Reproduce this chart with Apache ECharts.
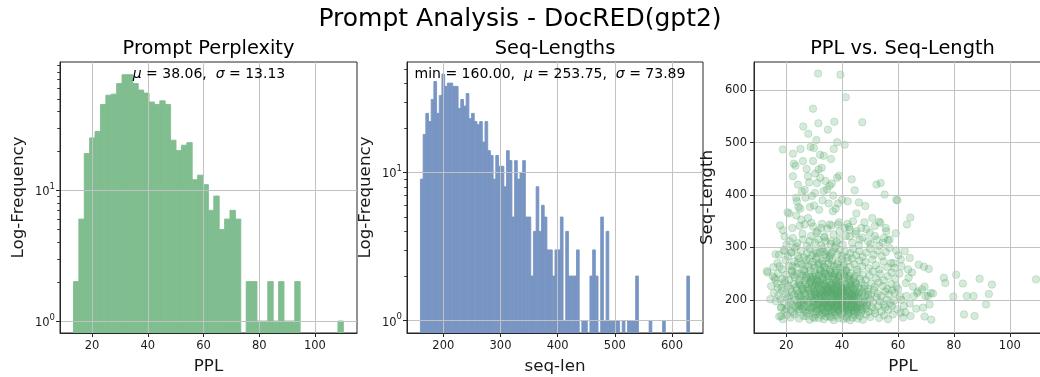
<!DOCTYPE html>
<html>
<head>
<meta charset="utf-8">
<script src="https://cdn.jsdelivr.net/npm/echarts@6/dist/echarts.min.js"></script>
<style>
html, body { margin: 0; padding: 0; background: #fff; }
#main { width: 1040px; height: 377px; }
</style>
</head>
<body>
<div id="main"></div>
<script>
// ---- data ----
// PPL histogram: 50 bins
var pplBinStart = 13.3;
var pplBinWidth = 1.938;
var pplCounts = [2, 6, 19, 25, 28, 45, 53, 54, 65, 76,
                 76, 65, 58, 55, 47, 45, 48, 45, 24, 20,
                 22, 23, 12, 13, 11, 7, 9, 5, 6, 7,
                 6, 0, 2, 2, 1, 1, 2, 1, 2, 1,
                 1, 2, 0, 0, 0, 0, 0, 0, 0, 1];

// seq-length histogram: 100 bins
var seqBinStart = 160;
var seqBinWidth = 4.706;
var seqCounts = [9, 18, 25, 22, 31, 41, 25, 33, 46, 38,
                 40, 40, 38, 38, 27, 31, 28, 34, 23, 25,
                 22, 21, 22, 16, 22, 14, 13, 9, 13, 11,
                 11, 8, 14, 12, 5, 12, 9, 10, 12, 5,
                 5, 2, 4, 8, 4, 6, 5, 3, 3, 2,
                 3, 3, 5, 1, 4, 2, 2, 2, 3, 0,
                 1, 1, 0, 2, 3, 2, 0, 5, 1, 4,
                 1, 1, 1, 1, 0, 1, 0, 1, 1, 1,
                 2, 0, 0, 0, 0, 1, 0, 0, 0, 0,
                 1, 0, 0, 0, 0, 0, 0, 0, 0, 2];

// tick labels
var pplTicks = [20, 40, 60, 80, 100];
var seqTicks = [200, 300, 400, 500, 600];
var logTicks = [1, 10];
var pplMinorTicks = [2, 3, 4, 5, 6, 7, 8, 9, 20, 30, 40, 50, 60, 70, 80, 90];
var seqMinorTicks = [2, 3, 4, 5, 6, 7, 8, 9, 20, 30, 40, 50];

// axis ranges
var pplRange = [8.47, 115.1];
var seqRange = [136.5, 654.2];
var pplLogRange = [0.81, 95];
var seqLogRange = [0.826, 55.5];

// PPL vs seq-length points
var scatterPoints = [
  // upper part
  [31.4,632],[39.4,630],[41.3,587],[29.6,565],[26.1,531],[31.5,537],[37.2,540],[47.2,539],[27.9,517],[34.9,525],
  [30.8,505],[38.2,501],[40.9,496],[18.8,487],[22.4,479],[25.1,488],[28.7,492],[29.9,490],[32.1,477],[33.4,475],
  [37,488],[36,469],[22.7,460],[23.3,456],[26,465],[29.6,465],[31.6,449],[32.7,452],[38.2,433],[38.9,437],
  [22.4,436],[27.8,436],[32.2,433],[31,423],[35.5,418],[36.3,422],[43.4,430],[52.3,420],[53.8,423],[55.2,401],
  [59.4,391],[44.5,409],[46,386],[48.3,379],[34.6,411],[33.4,408],[30.3,404],[25.6,407],[26.6,410],[23.6,395],
  [25,374],[24.4,377],[23.8,388],[21,365],[20.5,367],[36.7,369],[37.7,374],[38.5,384],[45.1,365],[43.9,350],
  [48,348],[50.8,356],[53.2,349],[55.6,337],[56.4,314],[59.2,327],[59.4,294],[17.8,342],[18.8,333],[19.4,321],
  [22.2,337],[24.8,341],[25.4,353],[23.6,361],[27.8,356],[29,347],[30.8,328],[32.5,337],[35.5,344],[38.5,344],
  [40.9,337],[42.7,334],[45.1,331],[46.9,337],[49.9,328],[51.7,341],[53.7,347],[55.8,331],[57,315],[54.6,309],
  [52.3,315],[49.3,312],[46.3,315],[42.7,321],[39.1,315],[36.1,312],[33.7,321],[31.4,315],[28.4,312],[26,315],
  [23.6,302],[21.2,312],[19.4,293],[21.8,290],[16.2,287],[13.1,255],[14.3,201],[15.8,242],[17.6,264],[17,223],
  [18.2,185],[18.2,169],[20,182],
  [30,380],[31.8,372],[28.5,377],[35.2,384],[40,391],[42,388],[26.9,395],[29.2,398],[33,390],[36.8,399],
  [24.2,420],[28.2,424],[34,427],[30.4,441],[27.3,450],
  // right side
  [59.8,390],[64.4,357],[63.2,344],[62.4,293],[64.2,280],[61,277],[67.4,267],[69.3,263],[71,259],[63.6,258],
  [65,252],[63.8,242],[76.4,242],[76.9,232],[80.8,248],[83.2,231],[89.2,240],[93.6,229],[92.5,211],[79.8,206],
  [84.6,207],[87,207],[91.5,191],[83.6,172],[87.4,169],[109.4,239],[59.4,226],[60,221],[58.8,213],[60.6,207],
  [61.2,200],[63,207],[65.4,225],[66.9,213],[68.6,220],[69.5,225],[70.7,207],[71.7,213],[72.5,212],[69.8,207],
  [71.3,191],[69,185],[66.5,183],[64.2,193],[62.1,188],[60.9,175],[61.8,166],[64.5,169],[69.5,168],[71.9,162],
  [58.8,261],[61.2,264],[67.1,216],[65.7,207],[59,240],[60.5,250],[58.4,270],[60.1,285],[62.8,232],[58.6,198],
  [59.7,182],[62.6,176],
  // 160-175
  [17.5,168],[18.8,163],[20.2,171],[21.5,166],[23,172],[24.6,164],[26.1,169],[27.3,174],[28.4,162],[29.6,167],
  [30.5,172],[31.7,165],[32.6,170],[33.5,163],[34.3,168],[35.2,173],[36.1,166],[37,161],[37.8,170],[38.7,165],
  [39.6,172],[40.4,163],[41.3,168],[42.1,173],[42.9,161],[43.8,166],[44.6,171],[45.5,164],[46.3,169],[47.4,162],
  [48.6,172],[50.1,167],[51.8,174],[53.2,165],[55,170],[56.4,163],[58.1,172],
  // 175-190
  [18.2,185],[19.5,178],[20.8,188],[21.6,181],[22.5,176],[23.4,186],[24.3,179],[25.1,189],[25.9,183],[26.8,177],
  [27.6,187],[28.3,180],[29.1,185],[29.8,176],[30.4,189],[31.1,182],[31.8,178],[32.4,186],[33,180],[33.7,189],
  [34.2,176],[34.9,184],[35.5,179],[36.2,188],[36.8,182],[37.4,177],[38,186],[38.6,180],[39.3,189],[39.9,184],
  [40.5,177],[41.2,187],[41.8,181],[42.5,176],[43.1,185],[43.7,179],[44.4,188],[45,182],[45.6,177],[46.3,186],
  [47,180],[47.8,189],[48.7,183],[49.5,177],[50.6,186],[51.7,180],[52.9,188],[54.1,178],[55.3,185],[56.6,181],
  [57.8,188],[30.9,179],[32.9,183],[35.1,187],[37.1,184],[39.1,178],[41,183],[43.4,187],[45.3,185],[44.1,178],
  [46.8,183],[33.9,177],[36.5,176],[28.8,183],[26.3,186],[24.8,182],[38.3,190],[40.2,186],[42.2,179],
  // 190-205
  [16.3,197],[17.9,201],[19.2,194],[20.4,203],[21.3,196],[22.2,191],[23.1,200],[23.9,194],[24.7,204],[25.5,198],
  [26.4,192],[27.2,201],[28,195],[28.7,204],[29.4,198],[30.1,192],[30.7,201],[31.3,195],[32,204],[32.6,198],
  [33.2,191],[33.8,200],[34.4,194],[35,203],[35.6,197],[36.2,191],[36.8,200],[37.4,194],[38,203],[38.6,197],
  [39.2,191],[39.8,200],[40.4,194],[41,203],[41.6,197],[42.2,192],[42.8,201],[43.4,195],[44,204],[44.6,198],
  [45.2,192],[45.8,201],[46.5,195],[47.3,204],[48.1,198],[49,192],[50,201],[51.1,195],[52.3,204],[53.5,197],
  [54.8,191],[56,200],[57.3,194],[29.9,196],[31.9,193],[34.1,197],[36,196],[38.2,193],[40.1,197],[42,199],
  [44.2,193],[43.6,198],[37.7,199],[35.3,193],[33,195],[27.7,197],[25,195],[39.5,204],[41.4,191],[46,191],
  [30.5,203],
  // 205-220
  [15.6,213],[17.2,208],[18.6,217],[19.9,211],[21,206],[21.9,215],[22.8,209],[23.7,218],[24.5,212],[25.3,207],
  [26.2,216],[27,210],[27.8,219],[28.5,213],[29.2,207],[29.9,216],[30.5,210],[31.2,219],[31.8,213],[32.4,207],
  [33,216],[33.6,210],[34.2,219],[34.8,213],[35.4,207],[36,216],[36.6,210],[37.2,219],[37.8,213],[38.4,207],
  [39,216],[39.6,210],[40.2,219],[40.8,213],[41.4,207],[42,216],[42.6,210],[43.2,219],[43.8,213],[44.4,207],
  [45,216],[45.7,210],[46.5,219],[47.3,213],[48.2,207],[49.2,216],[50.3,210],[51.5,218],[52.7,212],[54,207],
  [55.4,216],[56.8,210],[57.9,218],[30.3,214],[32.1,211],[34.5,215],[36.3,213],[38.1,211],[40.5,215],[42.4,213],
  [44.7,211],[28.9,211],[26.6,213],[24.1,209],[33.3,208],[35.7,218],[37.5,208],[39.3,213],[41.7,217],[43.5,206],
  [46.1,214],
  // 220-235
  [14.6,226],[16.8,231],[18.3,223],[19.6,232],[20.7,227],[21.7,221],[22.6,230],[23.5,224],[24.4,233],[25.2,227],
  [26.1,221],[26.9,230],[27.7,224],[28.5,233],[29.2,227],[29.9,221],[30.6,230],[31.3,224],[32,233],[32.7,227],
  [33.4,221],[34.1,230],[34.8,224],[35.5,233],[36.2,227],[36.9,221],[37.6,230],[38.3,224],[39,233],[39.7,227],
  [40.4,221],[41.1,230],[41.8,224],[42.5,233],[43.3,227],[44.1,221],[45,230],[45.9,224],[46.9,233],[48,227],
  [49.2,222],[50.4,231],[51.7,225],[53.1,233],[54.6,226],[56.2,221],[57.6,230],[31.6,228],[33.8,226],[35.9,229],
  [37.9,227],[34.6,222],[30.9,234],[28.1,229],[39.4,224],[42.9,229],[36.5,224],[24.8,229],[44.5,226],
  // 235-255
  [13.3,252],[15.2,245],[17.1,250],[18.7,240],[20,248],[21.1,238],[22.1,253],[23,243],[23.9,249],[24.8,237],
  [25.7,246],[26.5,254],[27.3,241],[28.1,249],[28.9,236],[29.6,244],[30.3,252],[31,239],[31.7,247],[32.4,255],
  [33.1,242],[33.8,250],[34.5,237],[35.2,245],[35.9,253],[36.6,240],[37.3,248],[38,236],[38.7,244],[39.4,252],
  [40.1,239],[40.8,247],[41.5,255],[42.2,242],[43,250],[43.8,237],[44.6,245],[45.5,253],[46.4,240],[47.4,248],
  [48.5,238],[49.7,246],[50.9,254],[52.2,241],[53.5,249],[54.9,237],[56.3,245],[57.7,252],[30.7,246],[32.8,241],
  [34.9,249],[36.9,244],[29.3,240],[27,245],[38.9,240],[40.6,251],[25.3,250],[33.5,254],[37.7,252],[42.6,246],
  [22.7,247],[19.5,236],[16.2,238],[31.4,236],[44.2,241],
  // 255-280
  [15.4,262],[16.9,270],[18.5,258],[19.8,276],[20.9,265],[21.9,256],[22.8,273],[23.7,262],[24.6,279],[25.4,268],
  [26.3,258],[27.1,275],[27.9,264],[28.7,256],[29.4,272],[30.1,261],[30.8,278],[31.5,267],[32.2,257],[32.9,274],
  [33.6,263],[34.3,280],[35,269],[35.7,258],[36.4,275],[37.1,264],[37.8,256],[38.5,272],[39.2,261],[39.9,278],
  [40.6,267],[41.3,257],[42,274],[42.8,263],[43.6,279],[44.4,268],[45.3,258],[46.2,275],[47.2,264],[48.3,272],
  [49.5,260],[50.8,277],[52.1,266],[53.4,258],[54.8,273],[56.2,262],[57.5,270],[29.8,266],[31.9,270],[34,260],
  [36.1,266],[38.2,268],[26.8,266],[24.1,270],[40.3,262],[33,268],[28.3,279],[35.4,279],[22.3,264],
  // 280-300
  [17.4,286],[19.1,295],[20.6,283],[21.8,291],[23,299],[24.2,284],[25.3,293],[26.4,281],[27.4,289],[28.4,297],
  [29.3,285],[30.2,293],[31.1,282],[32,290],[32.9,298],[33.8,286],[34.7,294],[35.6,283],[36.5,291],[37.4,299],
  [38.3,287],[39.2,295],[40.1,284],[41,292],[41.9,281],[42.9,289],[43.9,297],[45,285],[46.1,293],[47.3,282],
  [48.6,290],[49.9,298],[51.3,286],[52.7,294],[54.2,283],[55.6,291],[57,299],[30.8,289],[33.3,292],[35.9,288],
  // 300-350
  [20.1,305],[22.4,318],[24,308],[25.8,326],[27.4,303],[28.9,322],[30.3,309],[31.2,331],[32.5,304],[33.6,319],
  [34.7,336],[35.8,307],[36.9,325],[38,311],[39.1,330],[40.2,305],[41.4,322],[42.5,339],[43.6,309],[44.8,326],
  [46,304],[47.3,319],[48.7,335],[50.2,306],[51.7,322],[53.3,303],[55,318],[29.6,340],[32.8,345],[36.2,342],
  [38.9,348],[41.9,345],[26.6,344],[34.1,312],[37.6,302],
  // dense core
  [29.5,186],[31.2,191],[32.2,184],[33.6,193],[34.8,188],[35.8,182],[36.9,192],[37.9,187],[39,182],[40,193],
  [41.1,188],[42.3,183],[43.3,191],[44.5,186],[30.2,210],[31.5,205],[32.9,213],[34,206],[35.1,211],[36.4,205],
  [37.4,214],[38.7,206],[39.8,212],[41,209],[42.2,205],[43.7,211],[45,206],[29,222],[30.4,227],[32.3,220],
  [33.5,229],[35,219],[36.6,232],[37.3,220],[38.8,229],[40,223],[41.5,227],[43,223],[44.8,232],[28.6,243],
  [30,238],[31.9,250],[33.3,237],[34.3,245],[36.2,250],[37.5,239],[39.1,246],[41,242],[42.8,238],[27.2,169],
  [30.1,165],[33,174],[35.7,168],[38.4,175],[41.7,165],[44.2,174],[46.8,176],[47.6,195],[48.8,188],[47.9,221],
  [49.3,208],[26.4,200],[24.3,188],[26.7,237],[25.8,221]
];

// ---- styling ----
var FONT = 'DejaVu Sans';
var INK = '#1a1a1a';
var SPINE = '#262626';
var GRIDLINE = '#c2c2c2';
var GREEN_BAR = '#80bd8f';
var BLUE_BAR = '#7895c3';
var GREEN = '#55a868';

function histData(start, width, counts) {
  var out = [];
  for (var i = 0; i < counts.length; i++) {
    if (counts[i] > 0) out.push([start + i * width, start + (i + 1) * width, counts[i]]);
  }
  return out;
}

function renderHist(params, api) {
  var p0 = api.coord([api.value(0), api.value(2)]);
  var p1 = api.coord([api.value(1), api.value(2)]);
  var cs = params.coordSys;
  var c = api.visual('color');
  return {
    type: 'rect',
    shape: { x: p0[0], y: p0[1], width: p1[0] - p0[0], height: cs.y + cs.height - p0[1] },
    style: { fill: c, stroke: c, lineWidth: 0.9 }
  };
}

function renderMinorTick(params, api) {
  var p = api.coord([api.value(0), api.value(1)]);
  var x0 = params.coordSys.x;
  return {
    type: 'line',
    shape: { x1: x0 - 2.8, y1: Math.round(p[1]) + 0.5, x2: x0, y2: Math.round(p[1]) + 0.5 },
    style: { stroke: SPINE, lineWidth: 0.9 }
  };
}

function supLabel(v) {
  var e = Math.round(Math.log(v) / Math.LN10);
  return '{b|10}{s|' + e + '}';
}

function xAxisCfg(grid, range, ticks, name) {
  return {
    gridIndex: grid, type: 'value', min: range[0], max: range[1], splitNumber: 5, z: 3,
    name: name, nameLocation: 'middle', nameGap: 25,
    nameTextStyle: { fontSize: 16.7, color: INK, fontFamily: FONT },
    axisLine: { show: true, onZero: false, lineStyle: { color: SPINE, width: 1 } },
    axisTick: { show: true, length: 4, customValues: ticks, lineStyle: { color: SPINE, width: 1 } },
    axisLabel: { fontSize: 11.5, color: INK, fontFamily: FONT, margin: 7, customValues: ticks },
    splitLine: { show: true, lineStyle: { color: GRIDLINE, width: 1 } }
  };
}

function yLogCfg(grid, range) {
  return {
    gridIndex: grid, type: 'log', logBase: 10, min: range[0], max: range[1], z: 3,
    name: 'Log-Frequency', nameLocation: 'middle', nameGap: 33,
    nameTextStyle: { fontSize: 16.7, color: INK, fontFamily: FONT },
    axisLine: { show: true, onZero: false, lineStyle: { color: SPINE, width: 1 } },
    axisTick: { show: true, length: 4, customValues: logTicks, lineStyle: { color: SPINE, width: 1 } },
    axisLabel: {
      color: INK, fontFamily: FONT, margin: 5, customValues: logTicks, formatter: supLabel,
      rich: {
        b: { fontSize: 11.5, color: INK, fontFamily: FONT, lineHeight: 16, verticalAlign: 'bottom', padding: [4, 0, 0, 0] },
        s: { fontSize: 8.5, color: INK, fontFamily: FONT, lineHeight: 16, verticalAlign: 'top', padding: [0, 0, 6, 0] }
      }
    },
    splitLine: { show: true, lineStyle: { color: GRIDLINE, width: 1 } }
  };
}

var titleStyle = { fontSize: 19.4, fontWeight: 'normal', color: '#000', fontFamily: FONT };
var noteStyle = { fontSize: 14, fontWeight: 'normal', color: '#000', fontFamily: FONT,
                  rich: { i: { fontStyle: 'italic', fontSize: 14, fontFamily: FONT, color: '#000' } } };

var option = {
  animation: false,
  backgroundColor: '#fff',
  textStyle: { fontFamily: FONT },
  title: [
    { text: 'Prompt Analysis - DocRED(gpt2)', left: 520, top: 7, textAlign: 'center', padding: 0,
      textStyle: { fontSize: 25, fontWeight: 'normal', color: '#000', fontFamily: FONT } },
    { text: 'Prompt Perplexity', left: 208.5, top: 39, textAlign: 'center', padding: 0, textStyle: titleStyle },
    { text: 'Seq-Lengths', left: 555, top: 39, textAlign: 'center', padding: 0, textStyle: titleStyle },
    { text: 'PPL vs. Seq-Length', left: 902.5, top: 39, textAlign: 'center', padding: 0, textStyle: titleStyle },
    { text: '{i|μ} = 38.06,  {i|σ} = 13.13', left: 209, top: 67, textAlign: 'center', padding: 0, textStyle: noteStyle },
    { text: 'min = 160.00,  {i|μ} = 253.75,  {i|σ} = 73.89', left: 550, top: 67, textAlign: 'center', padding: 0, textStyle: noteStyle }
  ],
  grid: [
    { left: 60, top: 62, width: 297, height: 271, show: true, borderColor: SPINE, borderWidth: 1, backgroundColor: 'transparent', outerBoundsMode: 'none' },
    { left: 407, top: 62, width: 296, height: 271, show: true, borderColor: SPINE, borderWidth: 1, backgroundColor: 'transparent', outerBoundsMode: 'none' },
    { left: 754, top: 62, width: 298, height: 271, show: true, borderColor: SPINE, borderWidth: 1, backgroundColor: 'transparent', outerBoundsMode: 'none' }
  ],
  xAxis: [
    xAxisCfg(0, pplRange, pplTicks, 'PPL'),
    xAxisCfg(1, seqRange, seqTicks, 'seq-len'),
    xAxisCfg(2, pplRange, pplTicks, 'PPL')
  ],
  yAxis: [
    yLogCfg(0, pplLogRange),
    yLogCfg(1, seqLogRange),
    {
      gridIndex: 2, type: 'value', min: seqRange[0], max: seqRange[1], splitNumber: 5, z: 3,
      name: 'Seq-Length', nameLocation: 'middle', nameGap: 38,
      nameTextStyle: { fontSize: 16.7, color: INK, fontFamily: FONT },
      axisLine: { show: true, onZero: false, lineStyle: { color: SPINE, width: 1 } },
      axisTick: { show: true, length: 4, customValues: seqTicks, lineStyle: { color: SPINE, width: 1 } },
      axisLabel: { fontSize: 11.5, color: INK, fontFamily: FONT, margin: 7, customValues: seqTicks },
      splitLine: { show: true, lineStyle: { color: GRIDLINE, width: 1 } }
    }
  ],
  series: [
    { type: 'custom', name: 'ppl-hist', xAxisIndex: 0, yAxisIndex: 0, renderItem: renderHist,
      itemStyle: { color: GREEN_BAR }, encode: { x: [0, 1], y: 2 }, silent: true, z: 2,
      data: histData(pplBinStart, pplBinWidth, pplCounts) },
    { type: 'custom', name: 'ppl-minor', xAxisIndex: 0, yAxisIndex: 0, renderItem: renderMinorTick,
      encode: { x: 0, y: 1 }, silent: true, z: 4,
      data: pplMinorTicks.map(function (v) { return [pplRange[0], v]; }) },
    { type: 'custom', name: 'seq-hist', xAxisIndex: 1, yAxisIndex: 1, renderItem: renderHist,
      itemStyle: { color: BLUE_BAR }, encode: { x: [0, 1], y: 2 }, silent: true, z: 2,
      data: histData(seqBinStart, seqBinWidth, seqCounts) },
    { type: 'custom', name: 'seq-minor', xAxisIndex: 1, yAxisIndex: 1, renderItem: renderMinorTick,
      encode: { x: 0, y: 1 }, silent: true, z: 4,
      data: seqMinorTicks.map(function (v) { return [seqRange[0], v]; }) },
    { type: 'scatter', name: 'ppl-vs-len', xAxisIndex: 2, yAxisIndex: 2, symbol: 'circle', symbolSize: 7.5,
      silent: true, z: 2,
      itemStyle: { color: GREEN, opacity: 0.24, borderColor: GREEN, borderWidth: 1 },
      data: scatterPoints }
  ]
};

var chart = echarts.init(document.getElementById('main'));
chart.setOption(option);
</script>
</body>
</html>
